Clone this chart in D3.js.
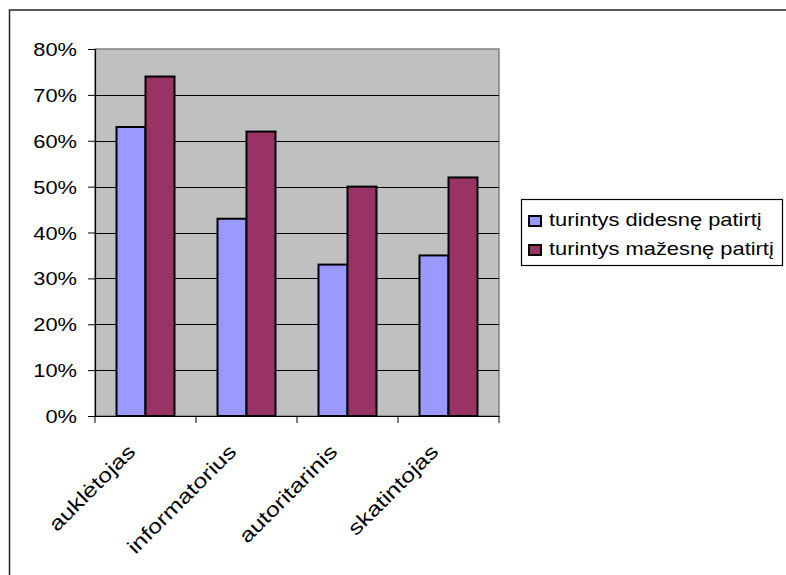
<!DOCTYPE html>
<html><head><meta charset="utf-8">
<script src="https://cdn.jsdelivr.net/npm/d3@7"></script>
<style>body{margin:0;background:#fff}svg{display:block}text{font-family:Arial,"Liberation Sans",sans-serif}</style>
</head><body>
<script>
const categories = ["auklėtojas","informatorius","autoritarinis","skatintojas"];
const seriesNames = ["turintys didesnę patirtį","turintys mažesnę patirtį"];
const didesne = [63,43,33,35];
const mazesne = [74,62,50,52];
const yTicks = [0,10,20,30,40,50,60,70,80];
const colors = ["#9999ff","#993366"];

const W=786,H=575, SX=1.25;
const svg=d3.select("body").append("svg").attr("width",W).attr("height",H);
// outer frame (cut off at right/bottom)
svg.append("path").attr("d","M9.5,"+(H+2)+"V10H"+(W+2)).attr("fill","none").attr("stroke","#222").attr("stroke-width",1.5);

const L=95,R=499,T=49,B=416;
const x=d3.scaleBand().domain(categories).range([L,R]).paddingInner(0).paddingOuter(0);
const y=d3.scaleLinear().domain([0,80]).range([B,T]);
const xs=d3.scaleBand().domain([0,1]).range([0,58]);

svg.append("rect").attr("x",L).attr("y",T).attr("width",R-L).attr("height",B-T).attr("fill","#c0c0c0").attr("stroke","#808080").attr("stroke-width",1.5);

// gridlines
svg.append("g").selectAll("line").data(yTicks.filter(d=>d>0&&d<80)).join("line")
 .attr("x1",L).attr("x2",R).attr("y1",d=>Math.round(y(d))+0.5).attr("y2",d=>Math.round(y(d))+0.5).attr("stroke","#000").attr("stroke-width",1);

// bars
const data=categories.map((c,i)=>({c,v:[didesne[i],mazesne[i]]}));
const g=svg.append("g");
data.forEach(d=>{
  const gx=x(d.c)+(x.bandwidth()-58)/2;
  g.selectAll(null).data(d.v).join("rect")
   .attr("x",(v,j)=>gx+xs(j)).attr("y",v=>y(v)).attr("width",xs.bandwidth()).attr("height",v=>B-y(v))
   .attr("fill",(v,j)=>colors[j]).attr("stroke","#000").attr("stroke-width",2);
});

// y axis
const ya=d3.axisLeft(y).tickValues(yTicks).tickFormat("").tickSize(7);
const yg=svg.append("g").attr("transform",`translate(${L},0)`).call(ya);
yg.select(".domain").attr("stroke","#000").attr("stroke-width",1.2);
svg.append("g").selectAll("text").data(yTicks).join("text")
 .attr("transform",d=>`translate(77,${y(d)+7}) scale(${SX},1)`)
 .attr("text-anchor","end").attr("font-size",17.5).attr("fill","#000").text(d=>d+"%");

// x axis
const xa=d3.axisBottom(x).tickSize(0).tickFormat("");
const xg=svg.append("g").attr("transform",`translate(0,${B})`).call(xa);
xg.select(".domain").attr("stroke","#000").attr("stroke-width",1.2);
const bounds=categories.map(c=>x(c)).concat([R]);
xg.selectAll(".bt").data(bounds).join("line").attr("class","bt").attr("x1",d=>d).attr("x2",d=>d).attr("y1",0).attr("y2",7).attr("stroke","#000");
svg.append("g").selectAll("text").data(categories).join("text")
 .attr("transform",c=>`translate(${x(c)+x.bandwidth()/2-9},${B+37}) rotate(-45) scale(${SX},1)`)
 .attr("text-anchor","end").attr("font-size",20).attr("fill","#000").text(c=>c);

// legend
const lg=svg.append("g");
lg.append("rect").attr("x",521.5).attr("y",199.5).attr("width",261).attr("height",66).attr("fill","#fff").attr("stroke","#000").attr("stroke-width",1.2);
seriesNames.forEach((s,i)=>{
  const yy=226+i*29;
  lg.append("rect").attr("x",529).attr("y",yy-10).attr("width",12).attr("height",10).attr("fill",colors[i]).attr("stroke","#000").attr("stroke-width",2);
  lg.append("text").attr("transform",`translate(549,${yy}) scale(${SX},1)`).attr("font-size",17.5).attr("fill","#000").text(s);
});
</script>
</body></html>
